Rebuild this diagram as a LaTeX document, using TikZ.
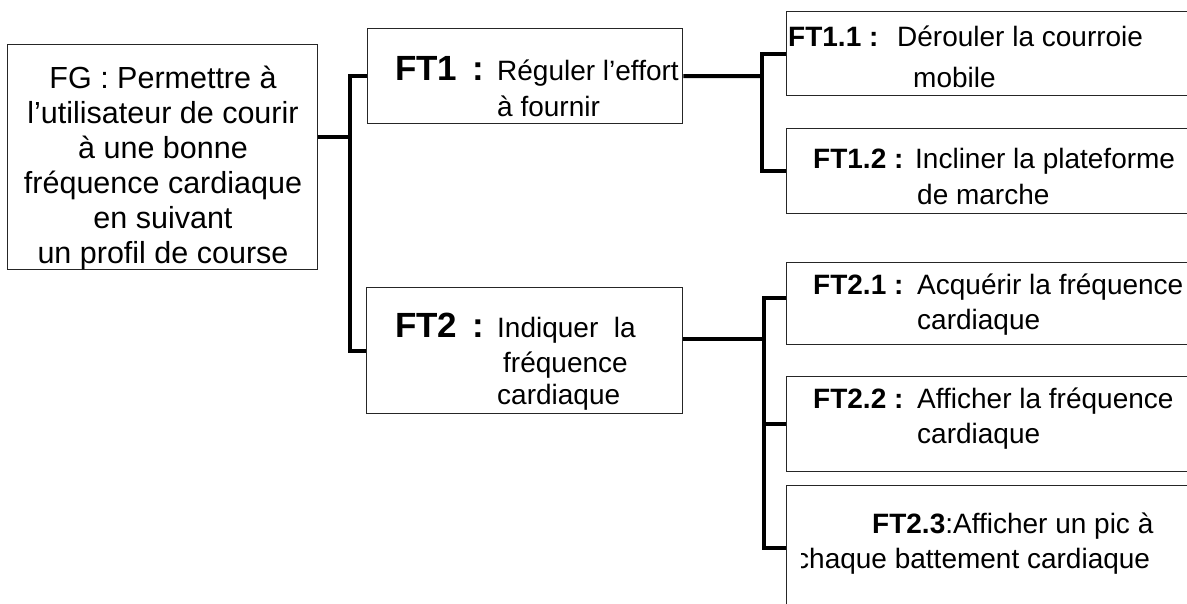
\documentclass[tikz,border=0pt]{standalone}
\usepackage{fontspec}
\setmainfont{Liberation Sans}
\begin{document}
\begin{tikzpicture}[x=1pt,y=-1pt,
  box/.style={draw=black!85,line width=1.3pt,rectangle,inner sep=0pt,anchor=north west},
  conn/.style={line width=4pt,black},
  txt/.style={anchor=base west,inner sep=0pt,font=\fontsize{28}{31}\selectfont},
  big/.style={anchor=base west,inner sep=0pt,font=\fontsize{35}{37}\selectfont\bfseries},
  sbt/.style={anchor=base west,inner sep=0pt,font=\fontsize{28}{31}\selectfont\bfseries}]
\clip (0,0) rectangle (1187,603);
\fill[white] (0,0) rectangle (1187,603);
% boxes
\node[box,minimum width=310pt,minimum height=225pt] (fg) at (7,44) {};
\node[box,minimum width=315pt,minimum height=95pt] (ft1) at (367,28) {};
\node[box,minimum width=316pt,minimum height=126pt] (ft2) at (366,287) {};
\node[box,minimum width=409pt,minimum height=84pt] (ft11) at (786,11) {};
\node[box,minimum width=409pt,minimum height=85pt] (ft12) at (786,128) {};
\node[box,minimum width=409pt,minimum height=82pt] (ft21) at (786,262) {};
\node[box,minimum width=409pt,minimum height=95pt] (ft22) at (786,376) {};
\node[box,minimum width=409pt,minimum height=124pt] (ft23) at (786,485) {};
% texts
\node[anchor=center,inner sep=0pt,align=center,font=\fontsize{30.5}{35}\selectfont] (fgt) at (163,168)
  {FG : Permettre à\\l’utilisateur de courir\\à une bonne\\fréquence cardiaque\\en suivant\\un profil de course};
\node[big] (t1a) at (395,80) {FT1 \,:};
\node[txt] (t1b) at (497,80) {Réguler l’effort};
\node[txt] (t1c) at (497,116) {à fournir};
\node[big] (t2a) at (395,337) {FT2 \,:};
\node[txt] (t2b) at (497,337) {Indiquer\ \ la};
\node[txt] (t2c) at (503,372) {fréquence};
\node[txt] (t2d) at (497,404) {cardiaque};
\node[sbt] (t11a) at (788,46) {FT1.1 :};
\node[txt] (t11b) at (897,46) {Dérouler la courroie};
\node[txt] (t11c) at (913,87) {mobile};
\node[sbt] (t12a) at (813,168) {FT1.2 :};
\node[txt] (t12b) at (915,168) {Incliner la plateforme};
\node[txt] (t12c) at (917,204) {de marche};
\node[sbt] (t21a) at (813,294) {FT2.1 :};
\node[txt] (t21b) at (917,294) {Acquérir la fréquence};
\node[txt] (t21c) at (917,329) {cardiaque};
\node[sbt] (t22a) at (813,408) {FT2.2 :};
\node[txt] (t22b) at (917,408) {Afficher la fréquence};
\node[txt] (t22c) at (917,443) {cardiaque};
\node[txt] (t23a) at (872,533) {\textbf{FT2.3}:Afficher un pic à};
\begin{scope}
\clip (801,490) rectangle (1187,603);
\node[txt] (t23b) at (795,568) {chaque battement cardiaque};
\end{scope}
% connectors
\coordinate (jA) at (350,137);
\coordinate (jB) at (762,76);
\coordinate (jC) at (764,339);
\draw[conn] (fg.east |- jA) -- (jA);
\draw[conn] (ft1.west) -| (jA) |- (ft2.west);
\draw[conn] (ft1.east) -- (jB);
\draw[conn] (ft11.west) -| (jB) |- (ft12.west);
\draw[conn] (ft2.east |- jC) -- (jC);
\draw[conn] ([yshift=6pt]ft21.west) -| (jC) |- (ft23.west);
\draw[conn] (jC |- ft22.west) -- (ft22.west);
\end{tikzpicture}
\end{document}
